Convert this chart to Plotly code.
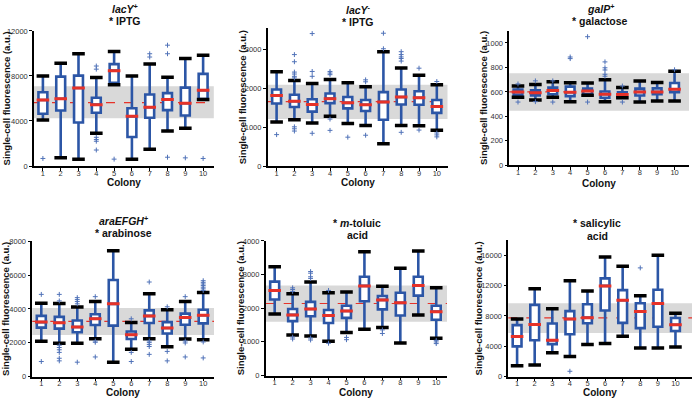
import plotly.graph_objects as go

W, H = 692, 404

COLONIES = [1, 2, 3, 4, 5, 6, 7, 8, 9, 10]
COLONY_LABELS = ["1", "2", "3", "4", "5", "6", "7", "8", "9", "10"]

# ---------------- Panel 1: lacY+ * IPTG ----------------
P1_UPPER = [8000, 9130, 9970, 7860, 10180, 8000, 9050, 7890, 9540, 9830]
P1_Q3 = [6550, 7940, 8030, 6060, 9050, 5130, 6350, 6470, 6960, 8180]
P1_MED = [5860, 5970, 6930, 5450, 8470, 4410, 5220, 5910, 5570, 6730]
P1_Q1 = [4640, 4930, 3860, 4730, 7390, 2580, 4290, 4960, 4490, 5940]
P1_LOWER = [4090, 730, 610, 2900, 7220, 610, 1480, 3100, 3360, 5900]
P1_OUT_X = [1, 4, 4, 4, 4, 4, 4, 5, 7, 7, 8, 8, 8, 9, 10]
P1_OUT_Y = [670, 8880, 8600, 2550, 2350, 2200, 1420, 610, 9970, 9680, 10730, 9970, 780, 725, 670]
P1_BAND = [4232, 7073]
P1_MEAN = 5624
P1_YTICKS = [0, 4000, 8000, 12000]

# ---------------- Panel 2: lacY- * IPTG ----------------
P2_UPPER = [2425, 2200, 2125, 2225, 2142, 2042, 2942, 2525, 2333, 2092]
P2_Q3 = [1967, 1833, 1717, 1867, 1775, 1700, 1900, 1967, 1925, 1700]
P2_MED = [1817, 1667, 1583, 1733, 1625, 1575, 1650, 1775, 1758, 1533]
P2_Q1 = [1608, 1517, 1400, 1617, 1483, 1417, 1192, 1583, 1575, 1367]
P2_LOWER = [1133, 1192, 1108, 1283, 1092, 1042, 575, 1042, 1033, 917]
P2_OUT_X = [1, 2, 2, 2, 2, 2, 2, 2, 2, 2, 3, 3, 3, 3, 4, 4, 4, 4, 4, 5, 6, 6, 6,
            7, 7, 8, 8, 8, 8, 8, 8, 9, 9, 10, 10, 10, 10]
P2_OUT_Y = [808, 2867, 2683, 2417, 2367, 2308, 2267, 1008, 958, 900, 3408, 2433, 2308, 842,
            2433, 2392, 2350, 1208, 917, 742, 2217, 2167, 792, 3417, 3017,
            2942, 2867, 2808, 2767, 2700, 867, 2517, 925, 2175, 850, 800, 750]
P2_BAND = [1208, 2092]
P2_MEAN = 1658
P2_YTICKS = [0, 1000, 2000, 3000]

# ---------------- Panel 3: galP+ * galactose ----------------
P3_UPPER = [648, 661, 683, 675, 672, 699, 635, 688, 677, 768]
P3_Q3 = [619, 613, 635, 643, 627, 603, 597, 627, 629, 672]
P3_MED = [600, 592, 611, 597, 608, 581, 579, 600, 600, 621]
P3_Q1 = [576, 571, 581, 565, 581, 552, 560, 571, 581, 597]
P3_LOWER = [557, 533, 557, 520, 572, 520, 552, 517, 525, 525]
P3_OUT_X = [1, 1, 2, 2, 3, 3, 4, 4, 5, 5, 6, 6, 6, 6, 6, 7, 7, 10]
P3_OUT_Y = [665, 517, 690, 520, 690, 517, 885, 872, 1051, 517, 845, 797, 779, 744, 728, 648, 517, 781]
P3_BAND = [445, 752]
P3_MEAN = 600
P3_YTICKS = [0, 200, 400, 600, 800, 1000]

# ---------------- Panel 4: araEFGH+ * arabinose ----------------
P4_UPPER = [4338, 4319, 4107, 4434, 7442, 3200, 4897, 3952, 4434, 4974]
P4_Q3 = [3586, 3528, 3316, 3682, 5707, 2661, 3914, 3220, 3721, 3952]
P4_MED = [3220, 3181, 2931, 3413, 4300, 2468, 3586, 2873, 3490, 3625]
P4_Q1 = [2892, 2834, 2622, 3046, 3008, 2217, 3162, 2545, 3066, 3143]
P4_LOWER = [2082, 1967, 1967, 2236, 848, 1620, 2236, 1754, 2217, 2179]
P4_OUT_X = [1, 1, 2, 2, 2, 2, 2, 2, 2, 2, 3, 3, 3, 3, 3, 4, 4, 4, 4, 6, 6, 6,
            7, 7, 7, 7, 7, 7, 8, 8, 8, 9, 9, 9, 9,
            10, 10, 10, 10, 10, 10, 10, 10, 10]
P4_OUT_Y = [4859, 887, 4859, 4473, 1851, 1716, 1581, 1427, 1080, 925,
            4666, 4550, 4434, 4300, 848, 4724, 2101, 2024, 1157, 3413, 1427, 887,
            5591, 2101, 2005, 1889, 1774, 1311, 4126, 1485, 925, 4724, 2101, 1986, 1157,
            5668, 5572, 5475, 5379, 5283, 5186, 5090, 2044, 1099]
P4_BAND = [2449, 4048]
P4_MEAN = 3258
P4_YTICKS = [0, 2000, 4000, 6000, 8000]

# ---------------- Panel 5: * m-toluic acid ----------------
P5_UPPER = [3235, 2431, 2780, 2460, 2479, 3680, 2654, 3186, 3700, 2605]
P5_Q3 = [2789, 1976, 2189, 1947, 2073, 2935, 2363, 2460, 2935, 2073]
P5_MED = [2528, 1801, 1976, 1782, 1918, 2663, 2247, 2160, 2673, 1898]
P5_Q1 = [2257, 1617, 1763, 1559, 1714, 2208, 1966, 1782, 2373, 1656]
P5_LOWER = [1830, 1201, 1172, 1017, 1278, 1375, 1424, 968, 1801, 1104]
P5_OUT_X = [2, 2, 2, 2, 2, 3, 3, 3, 3, 3, 3, 4, 4, 5, 5, 7, 7, 10, 10, 10]
P5_OUT_Y = [2605, 2557, 2499, 1143, 1085, 3089, 3041, 2935, 2886, 1114, 1056,
            2528, 959, 1133, 1065, 1356, 1249, 1046, 998, 949]
P5_BAND = [1598, 2673]
P5_MEAN = 2140
P5_YTICKS = [0, 1000, 2000, 3000, 4000]

# ---------------- Panel 6: * salicylic acid ----------------
P6_UPPER = [7610, 11588, 8951, 12669, 11286, 15783, 14572, 10680, 16042, 8345]
P6_Q3 = [6789, 9470, 7005, 8648, 9556, 12972, 11415, 9686, 11459, 7740]
P6_MED = [5275, 6875, 4800, 7610, 7783, 11977, 10075, 8605, 9643, 6832]
P6_Q1 = [3978, 4800, 4281, 5578, 7048, 8734, 7091, 6400, 6573, 6010]
P6_LOWER = [1427, 1513, 3157, 2638, 4238, 4367, 5319, 3762, 3762, 3892]
P6_OUT_X = [4, 8]
P6_OUT_Y = [692, 14356]
P6_BAND = [5751, 9686]
P6_MEAN = 7740
P6_YTICKS = [0, 4000, 8000, 12000, 16000]

TITLES = [
    ["<i>lacY</i><sup>+</sup>", "* IPTG"],
    ["<i>lacY</i><sup>-</sup>", "* IPTG"],
    ["<i>galP</i><sup>+</sup>", "* galactose"],
    ["<i>araEFGH</i><sup>+</sup>", "* arabinose"],
    ["* <i>m</i>-toluic", "acid"],
    ["* salicylic", "acid"],
]
YTITLE = "Single-cell fluorescence (a.u.)"
XTITLE = "Colony"

PANELS = [
    (P1_UPPER, P1_Q3, P1_MED, P1_Q1, P1_LOWER, P1_OUT_X, P1_OUT_Y, P1_BAND, P1_MEAN, P1_YTICKS),
    (P2_UPPER, P2_Q3, P2_MED, P2_Q1, P2_LOWER, P2_OUT_X, P2_OUT_Y, P2_BAND, P2_MEAN, P2_YTICKS),
    (P3_UPPER, P3_Q3, P3_MED, P3_Q1, P3_LOWER, P3_OUT_X, P3_OUT_Y, P3_BAND, P3_MEAN, P3_YTICKS),
    (P4_UPPER, P4_Q3, P4_MED, P4_Q1, P4_LOWER, P4_OUT_X, P4_OUT_Y, P4_BAND, P4_MEAN, P4_YTICKS),
    (P5_UPPER, P5_Q3, P5_MED, P5_Q1, P5_LOWER, P5_OUT_X, P5_OUT_Y, P5_BAND, P5_MEAN, P5_YTICKS),
    (P6_UPPER, P6_Q3, P6_MED, P6_Q1, P6_LOWER, P6_OUT_X, P6_OUT_Y, P6_BAND, P6_MEAN, P6_YTICKS),
]

# layout geometry (pixels): x_left, x_right, y_top, y_bottom, x range max, y range max
GEOM = [
    (34.0, 213.8, 27.5, 165.7, 10.6, 12000),
    (267.7, 447.5, 25.0, 165.7, 10.6, 3540),
    (509.3, 689.0, 27.3, 165.0, 10.83, 1100),
    (32.3, 214.0, 242.7, 381.0, 10.6, 8000),
    (265.7, 447.0, 242.3, 380.0, 10.6, 4000),
    (508.3, 692.0, 241.7, 381.0, 10.94, 18000),
]
TITLE_POS = [(125, 5, 17.5), (358, 5.5, 18), (600, 5, 17.5),
             (123, 221.5, 234), (357, 224, 236.5), (597, 224.5, 237)]
YTITLE_X = [6, 242, 483, 6, 240, 478]
XTITLE_Y = [183, 183, 184, 397, 397, 397.5]

BLUE = "#2c56a6"
OUTBLUE = "#5072b8"
RED = "#e63229"
FONT = "Liberation Sans, Arial, sans-serif"

fig = go.Figure()
layout = dict(
    width=W, height=H, margin=dict(l=0, r=0, t=0, b=0),
    paper_bgcolor="white", plot_bgcolor="white", showlegend=False,
    font=dict(family=FONT, color="#222"),
    shapes=[], annotations=[],
)

for i, (panel, geom) in enumerate(zip(PANELS, GEOM)):
    upper, q3, med, q1, lower, ox, oy, band, mean, yticks = panel
    xl, xr, yt, yb, xmax, ymax = geom
    n = "" if i == 0 else str(i + 1)
    xa, ya = "x" + n, "y" + n
    fig.add_trace(go.Box(
        x=COLONIES, q1=q1, median=med, q3=q3, lowerfence=lower, upperfence=upper,
        boxpoints=False, fillcolor="white", line=dict(color=BLUE, width=2.6),
        whiskerwidth=0, width=0.5, xaxis=xa, yaxis=ya, hoverinfo="skip",
    ))
    fig.add_trace(go.Scatter(
        x=COLONIES + COLONIES, y=lower + upper, mode="markers", xaxis=xa, yaxis=ya,
        marker=dict(symbol="line-ew", size=9, color="black", line=dict(color="black", width=3.5)),
        hoverinfo="skip",
    ))
    fig.add_trace(go.Scatter(
        x=COLONIES, y=med, mode="markers", xaxis=xa, yaxis=ya,
        marker=dict(symbol="line-ew", size=9, color=RED, line=dict(color=RED, width=3)),
        hoverinfo="skip",
    ))
    fig.add_trace(go.Scatter(
        x=ox, y=oy, mode="markers", xaxis=xa, yaxis=ya,
        marker=dict(symbol="cross-thin", size=3.5, color=OUTBLUE, line=dict(color=OUTBLUE, width=1)),
        hoverinfo="skip",
    ))
    layout["xaxis" + n] = dict(
        domain=[xl / W, xr / W], range=[0.5, xmax], anchor=ya,
        tickvals=COLONIES, ticktext=COLONY_LABELS, ticks="outside", ticklen=3, tickwidth=1,
        tickcolor="black", showline=True, linecolor="black", linewidth=1.5,
        showgrid=False, zeroline=False, tickfont=dict(size=7.5, color="#333"),
        ticklabelstandoff=-4,
    )
    layout["yaxis" + n] = dict(
        domain=[1 - yb / H, 1 - yt / H], range=[0, ymax], anchor=xa,
        tickvals=yticks, tickformat="d", ticks="outside", ticklen=3, tickwidth=1,
        tickcolor="black", showline=True, linecolor="black", linewidth=1.5,
        showgrid=False, zeroline=False, tickfont=dict(size=7.5, color="#333"),
    )
    layout["shapes"].append(dict(
        type="rect", xref=xa + " domain", yref=ya, x0=0, x1=1, y0=band[0], y1=band[1],
        fillcolor="#d9d9d9", line=dict(width=0), layer="below",
    ))
    layout["shapes"].append(dict(
        type="line", xref=xa + " domain", yref=ya, x0=0, x1=1, y0=mean, y1=mean,
        line=dict(color=RED, width=1.2, dash="dash"), layer="below",
    ))
    tx, ty1, ty2 = TITLE_POS[i]
    for txt, ty in zip(TITLES[i], (ty1, ty2)):
        layout["annotations"].append(dict(
            text=txt, x=tx / W, y=1 - ty / H, xref="paper", yref="paper",
            showarrow=False, xanchor="center", yanchor="middle",
            font=dict(size=10.5, weight="bold", color="#111"),
        ))
    layout["annotations"].append(dict(
        text=YTITLE, x=YTITLE_X[i] / W, y=1 - ((yt + yb) / 2) / H, xref="paper", yref="paper",
        showarrow=False, textangle=-90, xanchor="center", yanchor="middle",
        font=dict(size=9.5, weight="bold", color="#111"),
    ))
    layout["annotations"].append(dict(
        text=XTITLE, x=((xl + xr) / 2) / W, y=1 - XTITLE_Y[i] / H, xref="paper", yref="paper",
        showarrow=False, xanchor="center", yanchor="middle",
        font=dict(size=10, weight="bold", color="#111"),
    ))

fig.update_layout(**layout)
fig.write_html(
    "out.html",
    config={"displayModeBar": False},
    post_script="document.body.style.margin='0';document.body.style.overflow='hidden';",
)
